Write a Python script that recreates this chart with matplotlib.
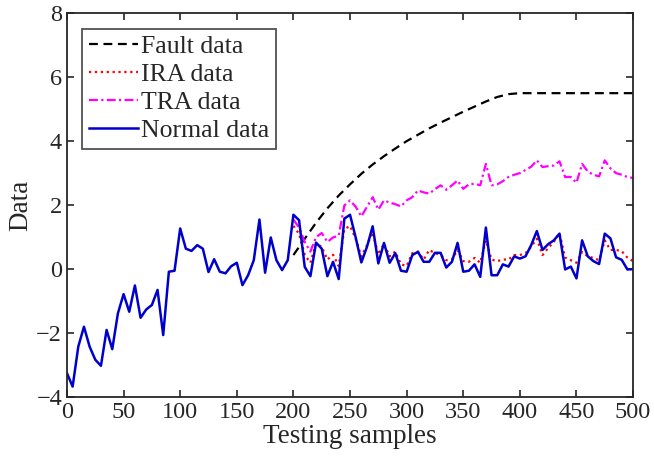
import matplotlib.pyplot as plt
import numpy as np

plt.rcParams['font.family'] = ['Liberation Serif', 'DejaVu Serif']

# samples 0..500 every 5
normal_x = np.arange(0, 501, 5)
normal = [-3.25, -3.67, -2.42, -1.80, -2.42, -2.83, -3.02, -1.90, -2.50, -1.38,
          -0.78, -1.33, -0.51, -1.52, -1.26, -1.12, -0.65, -2.06, -0.08, -0.05,
          1.27, 0.64, 0.57, 0.75, 0.64, -0.09, 0.31, -0.08, -0.13, 0.09,
          0.20, -0.50, -0.19, 0.28, 1.55, -0.11, 0.99, 0.28, -0.03, 0.28,
          1.70, 1.53, 0.07, -0.22, 0.83, 0.64, -0.22, 0.23, -0.31, 1.58,
          1.70, 0.99, 0.21, 0.70, 1.34, 0.18, 0.82, 0.20, 0.50, -0.05,
          -0.08, 0.44, 0.54, 0.23, 0.23, 0.51, 0.51, 0.05, 0.23, 0.82,
          -0.08, -0.05, 0.15, -0.24, 1.30, -0.19, -0.19, 0.15, 0.08, 0.40,
          0.33, 0.40, 0.75, 1.19, 0.60, 0.78, 0.90, 1.11, -0.01, 0.08,
          -0.29, 0.90, 0.40, 0.25, 0.16, 1.11, 0.96, 0.37, 0.29, -0.01,
          0.00]

# fault / IRA / TRA series start at sample 200
part_x = np.arange(200, 501, 5)
ira = [1.35, 1.10, 0.45, 0.20, 0.80, 0.70, 0.30, 0.45, 0.10, 1.25,
       1.35, 0.95, 0.40, 0.75, 1.15, 0.45, 0.80, 0.40, 0.55, 0.15,
       0.10, 0.50, 0.55, 0.30, 0.60, 0.50, 0.45, 0.28, 0.30, 0.60,
       0.25, 0.23, 0.35, 0.20, 0.90, 0.30, 0.25, 0.30, 0.30, 0.44,
       0.44, 0.50, 0.70, 0.95, 0.44, 0.66, 0.85, 1.13, 0.36, 0.28,
       0.20, 0.54, 0.40, 0.35, 0.28, 0.90, 0.60, 0.60, 0.56, 0.36,
       0.25]
tra = [1.55, 1.30, 0.85, 0.55, 1.00, 1.13, 0.85, 0.99, 1.05, 1.99,
       2.15, 1.95, 1.65, 1.95, 2.25, 1.86, 2.15, 2.08, 2.03, 1.96,
       2.15, 2.25, 2.46, 2.40, 2.36, 2.50, 2.62, 2.48, 2.62, 2.77,
       2.51, 2.65, 2.67, 2.62, 3.29, 2.62, 2.65, 2.75, 2.88, 2.95,
       3.00, 3.10, 3.20, 3.40, 3.19, 3.22, 3.24, 3.37, 2.88, 2.88,
       2.70, 3.29, 3.05, 2.95, 2.90, 3.40, 3.15, 3.00, 2.95, 2.88,
       2.85]

fault_x = [200, 210, 220, 230, 240, 250, 260, 270, 280, 290, 300,
           310, 320, 330, 340, 350, 360, 370, 380, 390, 400, 500]
fault = [0.44, 0.95, 1.45, 1.90, 2.30, 2.65, 2.98, 3.27, 3.53, 3.77, 4.00,
         4.20, 4.40, 4.58, 4.75, 4.92, 5.08, 5.24, 5.38, 5.47, 5.50, 5.50]

fig = plt.figure(figsize=(6.54, 4.70), dpi=100)
ax = fig.add_axes([0.1024, 0.155, 0.8656, 0.817])

ax.plot(fault_x, fault, color='black', linestyle=(0, (4, 2.5)), linewidth=1.6, label='Fault data')
ax.plot(part_x, ira, color='red', linestyle=':', linewidth=1.6, label='IRA data')
ax.plot(part_x, tra, color='magenta', linestyle=(0, (4, 1.5, 1, 1.5)), linewidth=1.6, label='TRA data')
ax.plot(normal_x, normal, color='#0000cc', linewidth=1.8, label='Normal data')

ax.set_xlim(0, 500)
ax.set_ylim(-4, 8)
ax.set_xticks(np.arange(0, 501, 50))
ax.set_yticks(np.arange(-4, 9, 2))
ax.tick_params(direction='in', top=True, right=True, labelsize=17.5, length=5,
               width=1.2, colors='#262626', labelcolor='#262626')
for s in ax.spines.values():
    s.set_linewidth(1.3)
    s.set_color('#262626')

ax.set_xlabel('Testing samples', fontsize=19.5, labelpad=1, color='#262626')
ax.set_ylabel('Data', fontsize=19.5, labelpad=2, color='#262626')

leg = ax.legend(loc='upper left', fontsize=18.5, frameon=True, fancybox=False,
                edgecolor='#262626', handlelength=1.9, handletextpad=0.15,
                borderpad=0.25, labelspacing=0.2, borderaxespad=0.6)
leg.get_frame().set_linewidth(1.3)
for t in leg.get_texts():
    t.set_color('#262626')

fig.savefig('out.png', dpi=100)
